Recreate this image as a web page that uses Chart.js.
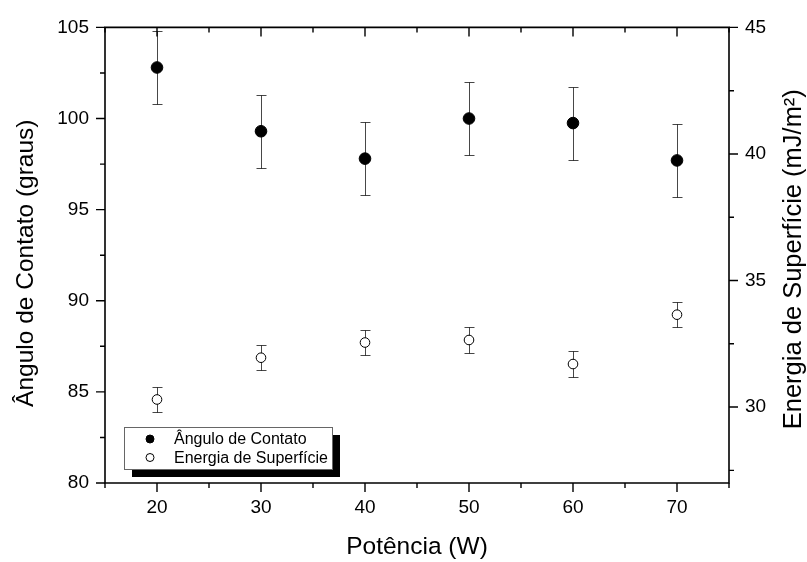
<!DOCTYPE html>
<html><head><meta charset="utf-8">
<script src="https://cdn.jsdelivr.net/npm/chart.js@4.4.0/dist/chart.umd.min.js"></script>
<style>html,body{margin:0;padding:0;background:#fff}#wrap{width:807px;height:562px}</style>
</head><body><div id="wrap"><canvas id="c" width="807" height="562"></canvas></div>
<script>
// ---- data ----
const power = [20, 30, 40, 50, 60, 70];
const contactAngle = [102.8, 99.3, 97.8, 100.0, 99.75, 97.7];
const contactErr = [2.0, 2.0, 2.0, 2.0, 2.0, 2.0];
const surfaceEnergy = [30.3, 31.95, 32.55, 32.65, 31.7, 33.65];
const energyErr = [0.5, 0.5, 0.5, 0.5, 0.5, 0.5];
const xTicks = [20, 30, 40, 50, 60, 70];
const xMinorTicks = [15, 25, 35, 45, 55, 65, 75];
const yTicks = [80, 85, 90, 95, 100, 105];
const yMinorTicks = [82.5, 87.5, 92.5, 97.5, 102.5];
const y2Ticks = [30, 35, 40, 45];
const y2MinorTicks = [27.5, 32.5, 37.5, 42.5];
const seriesNames = ['Ângulo de Contato', 'Energia de Superfície'];
const axisTitles = {x: 'Potência (W)', y: 'Ângulo de Contato (graus)', y2: 'Energia de Superfície (mJ/m²)'};

const FONT = '"Liberation Sans", Arial, Helvetica, sans-serif';

const errorBarPlugin = {
  id: 'errorBars',
  beforeDatasetsDraw(chart) {
    const ctx = chart.ctx;
    ctx.save();
    ctx.strokeStyle = 'rgba(0,0,0,0.72)';
    ctx.lineWidth = 1;
    chart.data.datasets.forEach(ds => {
      const ys = chart.scales[ds.yAxisID];
      const xs = chart.scales.x;
      ds.data.forEach((p, i) => {
        const e = ds.errors[i];
        const px = Math.round(xs.getPixelForValue(p.x)) + 0.5;
        const yt = Math.round(ys.getPixelForValue(p.y + e)) + 0.5;
        const yb = Math.round(ys.getPixelForValue(p.y - e)) + 0.5;
        ctx.beginPath();
        ctx.moveTo(px, yt); ctx.lineTo(px, yb);
        ctx.moveTo(px - 5, yt); ctx.lineTo(px + 5, yt);
        ctx.moveTo(px - 5, yb); ctx.lineTo(px + 5, yb);
        ctx.stroke();
      });
    });
    ctx.restore();
  }
};

const framePlugin = {
  id: 'frame',
  afterDatasetsDraw(chart) {
    const ctx = chart.ctx;
    const {left, right, top, bottom} = chart.chartArea;
    const xs = chart.scales.x, ys = chart.scales.y, y2s = chart.scales.y2;
    ctx.save();
    ctx.strokeStyle = '#000';
    ctx.lineWidth = 1.6;
    ctx.beginPath();
    ctx.rect(left, top, right - left, bottom - top);
    ctx.stroke();
    ctx.lineWidth = 1.4;
    const MAJ = 9, MIN = 5;
    ctx.beginPath();
    xTicks.forEach(v => { const p = xs.getPixelForValue(v);
      ctx.moveTo(p, bottom); ctx.lineTo(p, bottom + MAJ);
      ctx.moveTo(p, top); ctx.lineTo(p, top + MAJ); });
    xMinorTicks.forEach(v => { const p = xs.getPixelForValue(v);
      ctx.moveTo(p, bottom); ctx.lineTo(p, bottom + MIN);
      ctx.moveTo(p, top); ctx.lineTo(p, top + MIN); });
    yTicks.forEach(v => { const p = ys.getPixelForValue(v);
      ctx.moveTo(left, p); ctx.lineTo(left - MAJ, p); });
    yMinorTicks.forEach(v => { const p = ys.getPixelForValue(v);
      ctx.moveTo(left, p); ctx.lineTo(left - MIN, p); });
    y2Ticks.forEach(v => { const p = y2s.getPixelForValue(v);
      ctx.moveTo(right, p); ctx.lineTo(right + MAJ, p); });
    y2MinorTicks.forEach(v => { const p = y2s.getPixelForValue(v);
      ctx.moveTo(right, p); ctx.lineTo(right + MIN, p); });
    ctx.stroke();

    // vertical axis titles
    ctx.fillStyle = '#000';
    ctx.textAlign = 'center';
    ctx.textBaseline = 'alphabetic';
    const cy = (top + bottom) / 2;
    ctx.font = '24.5px ' + FONT;
    ctx.save();
    ctx.translate(33, cy + 8);
    ctx.rotate(-Math.PI / 2);
    ctx.fillText(ys.options.title.text, 0, 0);
    ctx.restore();
    ctx.font = '25.5px ' + FONT;
    ctx.save();
    ctx.translate(right + 72, cy + 4);
    ctx.rotate(-Math.PI / 2);
    ctx.fillText(y2s.options.title.text, 0, 0);
    ctx.restore();

    // legend
    const bx = left + 19, by = bottom - 56, bw = 208, bh = 42;
    ctx.fillStyle = '#000';
    ctx.fillRect(bx + 8, by + 8, bw, bh);
    ctx.fillStyle = '#fff';
    ctx.fillRect(bx, by, bw, bh);
    ctx.strokeStyle = '#666';
    ctx.lineWidth = 1;
    ctx.strokeRect(bx + 0.5, by + 0.5, bw, bh);
    ctx.font = '16px ' + FONT;
    ctx.textAlign = 'left';
    ctx.textBaseline = 'middle';
    chart.data.datasets.forEach((ds, i) => {
      const ry = by + 12 + i * 18.5;
      ctx.beginPath();
      ctx.arc(bx + 26, ry, 4, 0, Math.PI * 2);
      ctx.fillStyle = ds.pointBackgroundColor;
      ctx.fill();
      ctx.strokeStyle = '#000';
      ctx.lineWidth = 1;
      ctx.stroke();
      ctx.fillStyle = '#000';
      ctx.fillText(ds.label, bx + 50, ry + 1);
    });
    ctx.restore();
  }
};

const tickFont = {family: FONT, size: 19};

new Chart(document.getElementById('c'), {
  type: 'scatter',
  data: {
    datasets: [
      {label: seriesNames[0], data: power.map((x, i) => ({x, y: contactAngle[i]})), errors: contactErr,
       yAxisID: 'y', pointRadius: 5.8, pointBackgroundColor: '#000', pointBorderColor: '#000', pointBorderWidth: 1, showLine: false},
      {label: seriesNames[1], data: power.map((x, i) => ({x, y: surfaceEnergy[i]})), errors: energyErr,
       yAxisID: 'y2', pointRadius: 4.8, pointBackgroundColor: '#fff', pointBorderColor: '#000', pointBorderWidth: 1, showLine: false}
    ]
  },
  options: {
    responsive: false, animation: false, devicePixelRatio: 1,
    layout: {padding: {top: 22, left: 0, right: 0, bottom: 0}},
    plugins: {legend: {display: false}, tooltip: {enabled: false}},
    scales: {
      x: {type: 'linear', position: 'bottom', min: 15, max: 75,
          afterBuildTicks: s => { s.ticks = xTicks.map(v => ({value: v})); },
          afterFit: s => { s.height = 79; },
          grid: {display: false, drawTicks: false}, border: {display: false},
          ticks: {padding: 13, color: '#000', font: tickFont},
          title: {display: true, text: axisTitles.x, color: '#000', font: {family: FONT, size: 24.5}, padding: {top: 0, bottom: 0}}},
      y: {type: 'linear', position: 'left', min: 80, max: 105,
          afterBuildTicks: s => { s.ticks = yTicks.map(v => ({value: v})); },
          afterFit: s => { s.width = 105; },
          grid: {display: false, drawTicks: false}, border: {display: false},
          ticks: {padding: 16, color: '#000', font: tickFont},
          title: {display: false, text: axisTitles.y}},
      y2: {type: 'linear', position: 'right', min: 27, max: 45,
          afterBuildTicks: s => { s.ticks = y2Ticks.map(v => ({value: v})); },
          afterFit: s => { s.width = 78; },
          grid: {display: false, drawTicks: false}, border: {display: false},
          ticks: {padding: 16, color: '#000', font: tickFont},
          title: {display: false, text: axisTitles.y2}}
    }
  },
  plugins: [errorBarPlugin, framePlugin]
});
</script></body></html>
